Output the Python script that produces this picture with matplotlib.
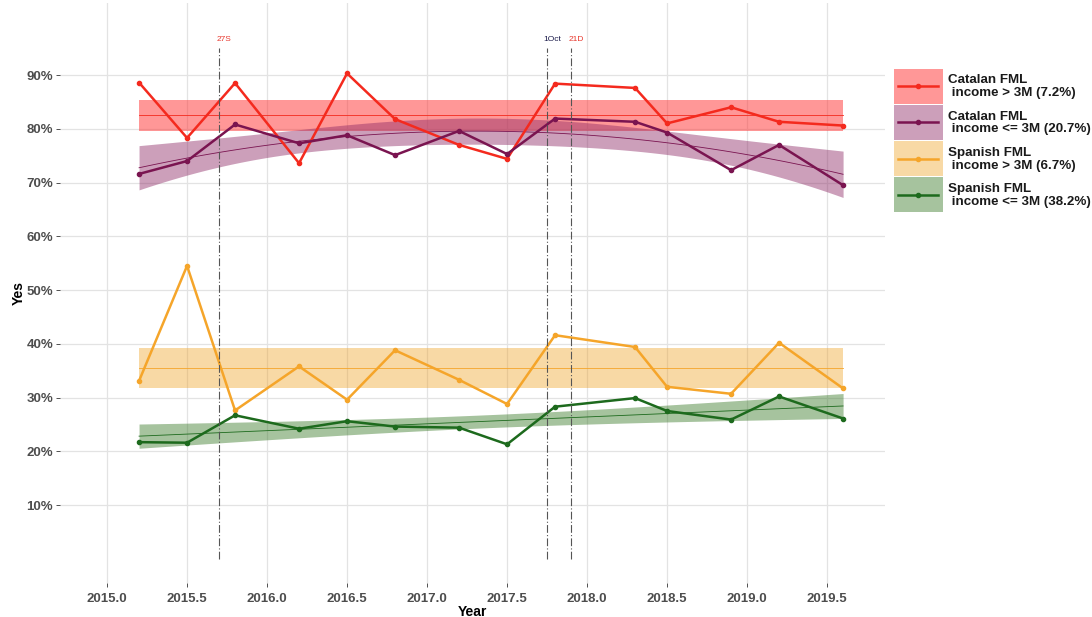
import numpy as np
import matplotlib
matplotlib.use("Agg")
import matplotlib.pyplot as plt
from matplotlib.patches import Rectangle

plt.rcParams['font.family'] = ['Liberation Sans', 'DejaVu Sans']

# survey waves (decimal year)
years = [2015.2, 2015.5, 2015.8, 2016.2, 2016.5, 2016.8, 2017.2, 2017.5,
         2017.8, 2018.3, 2018.5, 2018.9, 2019.2, 2019.6]

# share answering "Yes" (%) per group
cat_high = [88.6, 78.3, 88.5, 73.6, 90.3, 81.8, 77.0, 74.4, 88.4, 87.6, 81.0, 84.0, 81.3, 80.6]
cat_low = [71.6, 74.0, 80.8, 77.3, 78.8, 75.1, 79.6, 75.3, 81.9, 81.3, 79.3, 72.3, 77.0, 69.5]
spa_high = [33.1, 54.5, 27.6, 35.8, 29.6, 38.8, 33.3, 28.8, 41.6, 39.4, 32.0, 30.7, 40.2, 31.7]
spa_low = [21.7, 21.6, 26.7, 24.2, 25.6, 24.6, 24.4, 21.3, 28.3, 29.9, 27.5, 25.9, 30.2, 26.1]

labels = ["Catalan FML\n income > 3M (7.2%)",
          "Catalan FML\n income <= 3M (20.7%)",
          "Spanish FML\n income > 3M (6.7%)",
          "Spanish FML\n income <= 3M (38.2%)"]
line_colors = ['#F42A1E', '#7A1450', '#F5A52A', '#1D6A1D']
band_colors = ['#FF3030', '#8E2A66', '#EFA020', '#3A7A28']
band_alpha = [0.5, 0.45, 0.4, 0.45]
fit_degree = [0, 2, 0, 1]  # model used for each smoother

events = [2015.70, 2017.75, 2017.90]
event_labels = ['27S', '1Oct', '21D']
event_colors = ['#E8382E', '#1A1A4A', '#E8382E']


def fit_band(x, y, deg, xs):
    x = np.asarray(x)
    y = np.asarray(y)
    X = np.vander(x - x.mean(), deg + 1)
    beta, *_ = np.linalg.lstsq(X, y, rcond=None)
    resid = y - X @ beta
    s2 = resid @ resid / (len(y) - deg - 1)
    XtXi = np.linalg.inv(X.T @ X)
    Xs = np.vander(xs - x.mean(), deg + 1)
    fit = Xs @ beta
    se = np.sqrt(np.einsum('ij,jk,ik->i', Xs, XtXi, Xs) * s2)
    return fit, fit - 1.96 * se, fit + 1.96 * se


fig = plt.figure(figsize=(10.92, 6.17), dpi=100)
ax = fig.add_axes([60 / 1092, 34 / 617, 825 / 1092, 580 / 617])

series = [cat_high, cat_low, spa_high, spa_low]
xs = np.linspace(min(years), max(years), 100)
for i, ys in enumerate(series):
    fit, lo, hi = fit_band(years, ys, fit_degree[i], xs)
    ax.fill_between(xs, lo, hi, color=band_colors[i], alpha=band_alpha[i], lw=0, zorder=2)
    ax.plot(xs, fit, color=line_colors[i], lw=0.6, zorder=3)

for i, ys in enumerate(series):
    ax.plot(years, ys, color=line_colors[i], lw=1.8, marker='o', ms=3, zorder=4)

for x, lab, c in zip(events, event_labels, event_colors):
    ax.plot([x, x], [0, 95], color='#555555', lw=0.8, ls=(0, (7, 2, 1, 2)), zorder=5)
    ax.text(x + 0.03, 96.7, lab, color=c, fontsize=6, ha='center', va='center')

ax.set_xlim(2014.706, 2019.862)
ax.set_ylim(-4.5, 103.4)
xt = np.arange(2015.0, 2019.6, 0.5)
ax.set_xticks(xt)
ax.set_xticklabels([f"{v:.1f}" for v in xt])
ax.set_yticks(range(10, 100, 10))
ax.set_yticklabels([f"{v}%" for v in range(10, 100, 10)])
ax.grid(True, color='#E3E3E3', lw=0.9)
ax.set_axisbelow(True)
for s in ax.spines.values():
    s.set_visible(False)
ax.tick_params(axis='both', colors='#333333', length=3, width=0.6, labelsize=9.5, pad=2)
ax.tick_params(axis='x', pad=4)
for t in ax.get_xticklabels() + ax.get_yticklabels():
    t.set_fontweight('bold')
    t.set_color('#4D4D4D')
ax.set_xlabel('Year', fontsize=10, fontweight='bold', labelpad=0)
ax.set_ylabel('Yes', fontsize=10, fontweight='bold', labelpad=0.5)

# legend drawn by hand in pixel coordinates so the keys fill the whole row
lax = fig.add_axes([0, 0, 1, 1], facecolor='none')
lax.set_xlim(0, 1092)
lax.set_ylim(617, 0)
lax.axis('off')
row_h = 36.1
for i in range(4):
    top = 68.3 + i * row_h
    lax.add_patch(Rectangle((894, top + 0.5), 49, row_h - 1, facecolor=band_colors[i],
                            alpha=band_alpha[i], edgecolor='none'))
    cy = top + row_h / 2
    lax.plot([898, 938], [cy, cy], color=line_colors[i], lw=1.8)
    lax.plot([918], [cy], color=line_colors[i], marker='o', ms=3)
    lax.text(948, cy + 0.5, labels[i], fontsize=9.6, fontweight='bold', color='#1A1A1A',
             ha='left', va='center', linespacing=1.1)

fig.savefig('out.png', dpi=100, facecolor='white')
